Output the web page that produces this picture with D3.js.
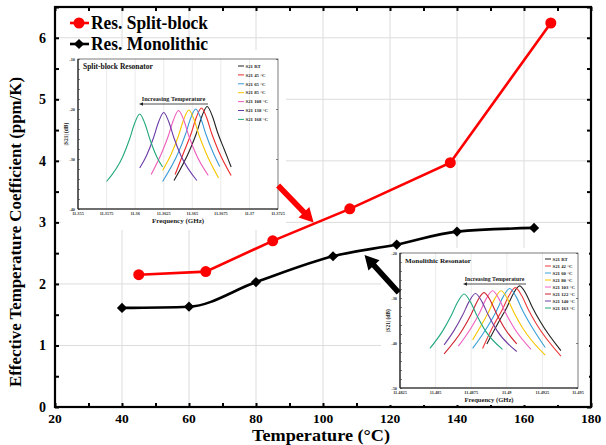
<!DOCTYPE html>
<html><head><meta charset="utf-8">
<script src="https://cdn.jsdelivr.net/npm/d3@7"></script>
<style>html,body{margin:0;padding:0;background:#fff}svg{display:block}text{font-family:'Liberation Serif','Times New Roman',serif;font-weight:bold}</style>
</head><body><svg id="c" width="606" height="445"></svg>
<script>
// ---------- main data ----------
const seriesNames = ["Res. Split-block", "Res. Monolithic"];
const tempSplit = [45, 65, 85, 108, 138, 168];
const tcfSplit = [2.15, 2.2, 2.7, 3.22, 3.97, 6.24];
const tempMono = [40, 60, 80, 103, 122, 140, 163];
const tcfMono = [1.61, 1.63, 2.03, 2.45, 2.64, 2.85, 2.91];
const xTickLabels = [20, 40, 60, 80, 100, 120, 140, 160, 180];
const yTickLabels = [0, 1, 2, 3, 4, 5, 6];
const xTitle = "Temperature (°C)";
const yTitle = "Effective Temperature Coefficient (ppm/K)";

// ---------- inset 1: split-block ----------
const splitNames = ["S21 RT", "S21 45 °C", "S21 65 °C", "S21 85 °C", "S21 108 °C", "S21 138 °C", "S21 168 °C"];
const splitColors = ["#222222", "#ee2a2a", "#3a9ad8", "#f7c600", "#ee5cbc", "#6a3aa6", "#22a878"];
const splitCurves = [
  [[11.3634,-34.3],[11.3648,-28.1],[11.3654,-24.6],[11.36585,-21.4],[11.3663,-19.5],[11.36675,-21.4],[11.3672,-24.6],[11.3678,-28.1],[11.3684,-31.6]],
  [[11.3635,-33.1],[11.3643,-28.4],[11.3649,-24.9],[11.36535,-21.7],[11.3658,-19.8],[11.36625,-21.7],[11.3667,-24.9],[11.3673,-28.4],[11.3684,-33.3]],
  [[11.3624,-34.5],[11.3638,-28.6],[11.3644,-25.1],[11.36485,-21.9],[11.3653,-20.0],[11.36575,-21.9],[11.3662,-25.1],[11.3668,-28.6],[11.3674,-31.5]],
  [[11.3624,-32.3],[11.3632,-28.8],[11.3638,-25.3],[11.36425,-22.1],[11.3647,-20.2],[11.36515,-22.1],[11.3656,-25.3],[11.3662,-28.8],[11.3673,-33.8]],
  [[11.3614,-33.1],[11.3623,-28.9],[11.3629,-25.4],[11.36335,-22.2],[11.3638,-20.3],[11.36425,-22.2],[11.3647,-25.4],[11.3653,-28.9],[11.3664,-33.3]],
  [[11.3604,-31.8],[11.3610,-29.3],[11.3616,-25.8],[11.36205,-22.6],[11.3625,-20.7],[11.36295,-22.6],[11.3634,-25.8],[11.3640,-29.3],[11.3654,-34.3]],
  [[11.3575,-34.5],[11.3589,-29.6],[11.3595,-26.1],[11.35995,-22.9],[11.3604,-21.0],[11.36085,-22.9],[11.3613,-26.1],[11.3619,-29.6],[11.3624,-31.6]]
];
const splitXTicks = [11.355, 11.3575, 11.36, 11.3625, 11.365, 11.3675, 11.37, 11.3725];
const splitYTicks = [-40, -30, -20, -10];

// ---------- inset 2: monolithic ----------
const monoNames = ["S21 RT", "S21 42 °C", "S21 60 °C", "S21 80 °C", "S21 103 °C", "S21 122 °C", "S21 140 °C", "S21 163 °C"];
const monoColors = ["#222222", "#ee3a3a", "#3aa0d8", "#f7c600", "#f060c0", "#d0202e", "#7040a0", "#20a880"];
const monoCurves = [
  [[11.4886,-40.2],[11.4894,-35.5],[11.4900,-32.1],[11.49045,-29.1],[11.4909,-27.3],[11.49135,-29.1],[11.4918,-32.1],[11.4924,-35.5],[11.4938,-41.7]],
  [[11.4883,-41.2],[11.4891,-35.9],[11.4897,-32.5],[11.49015,-29.5],[11.4906,-27.7],[11.49105,-29.5],[11.4915,-32.5],[11.4921,-35.9],[11.4938,-42.9]],
  [[11.4876,-41.2],[11.4887,-36.1],[11.4893,-32.7],[11.48975,-29.7],[11.4902,-27.9],[11.49065,-29.7],[11.4911,-32.7],[11.4917,-36.1],[11.4927,-41.0]],
  [[11.4876,-39.3],[11.4881,-36.6],[11.4887,-33.2],[11.48915,-30.2],[11.4896,-28.4],[11.49005,-30.2],[11.4905,-33.2],[11.4911,-36.6],[11.4927,-42.7]],
  [[11.4866,-40.7],[11.4875,-36.6],[11.4881,-33.2],[11.48855,-30.2],[11.4890,-28.4],[11.48945,-30.2],[11.4899,-33.2],[11.4905,-36.6],[11.4917,-41.4]],
  [[11.4856,-42.4],[11.4869,-37.0],[11.4875,-33.6],[11.48795,-30.6],[11.4884,-28.8],[11.48885,-30.6],[11.4893,-33.6],[11.4899,-37.0],[11.4907,-40.2]],
  [[11.4856,-40.4],[11.4863,-37.2],[11.4869,-33.8],[11.48735,-30.8],[11.4878,-29.0],[11.48825,-30.8],[11.4887,-33.8],[11.4893,-37.2],[11.4907,-41.9]],
  [[11.4846,-41.2],[11.4855,-37.3],[11.4861,-33.9],[11.48655,-30.9],[11.4870,-29.1],[11.48745,-30.9],[11.4879,-33.9],[11.4885,-37.3],[11.4897,-41.4]]
];
const monoXTicks = [11.4825, 11.485, 11.4875, 11.49, 11.4925, 11.495];
const monoYTicks = [-50, -40, -30, -20];

// ---------- layout ----------
const svg = d3.select("#c");
const L = 55, R = 591, T = 7, B = 407;
const x = d3.scaleLinear().domain([20, 180]).range([L, R]);
const y = d3.scaleLinear().domain([0, 6.5]).range([B, T]);

// grid
const grid = svg.append("g").attr("stroke", "#dcdcdc").attr("stroke-width", 1);
xTickLabels.slice(1, -1).forEach(v => grid.append("line").attr("x1", x(v)).attr("x2", x(v)).attr("y1", T).attr("y2", B));
yTickLabels.slice(1).forEach(v => grid.append("line").attr("x1", L).attr("x2", R).attr("y1", y(v)).attr("y2", y(v)));

// axes with inward ticks
function inwardAxes() {
  const gB = svg.append("g").attr("transform", `translate(0,${B})`)
    .call(d3.axisTop(x).tickValues(d3.range(20, 181, 10)).tickSize(4).tickFormat(""));
  const gT = svg.append("g").attr("transform", `translate(0,${T})`)
    .call(d3.axisBottom(x).tickValues(d3.range(20, 181, 10)).tickSize(4).tickFormat(""));
  const gL = svg.append("g").attr("transform", `translate(${L},0)`)
    .call(d3.axisRight(y).tickValues(d3.range(0, 6.51, 0.5)).tickSize(4).tickFormat(""));
  const gR = svg.append("g").attr("transform", `translate(${R},0)`)
    .call(d3.axisLeft(y).tickValues(d3.range(0, 6.51, 0.5)).tickSize(4).tickFormat(""));
  [gB, gT, gL, gR].forEach(g => { g.select(".domain").remove(); g.selectAll("line").attr("stroke", "#000").attr("stroke-width", 2); });
}
inwardAxes();
svg.append("rect").attr("x", L).attr("y", T).attr("width", R - L).attr("height", B - T)
  .attr("fill", "none").attr("stroke", "#000").attr("stroke-width", 2.2);

// tick labels
svg.append("g").selectAll("text").data(xTickLabels).join("text")
  .attr("x", d => x(d)).attr("y", B + 15.5).attr("text-anchor", "middle").attr("font-size", 13.5).text(d => d);
svg.append("g").selectAll("text").data(yTickLabels).join("text")
  .attr("x", L - 9).attr("y", d => y(d) + 5).attr("text-anchor", "end").attr("font-size", 14).text(d => d);
svg.append("text").attr("x", 321).attr("y", 440.5).attr("text-anchor", "middle").attr("font-size", 17)
  .attr("textLength", 138).attr("lengthAdjust", "spacingAndGlyphs").text(xTitle);
svg.append("text").attr("transform", `translate(21,232) rotate(-90)`).attr("text-anchor", "middle").attr("font-size", 16.5)
  .attr("textLength", 310).attr("lengthAdjust", "spacingAndGlyphs").text(yTitle);

// ---------- inset drawer ----------
function drawInset(c) {
  const g = svg.append("g");
  g.append("rect").attr("x", c.bg[0]).attr("y", c.bg[1]).attr("width", c.bg[2]).attr("height", c.bg[3]).attr("fill", "#fff");
  const ix = d3.scaleLinear().domain([c.xTicks[0], c.xTicks[c.xTicks.length - 1]]).range([c.x0, c.x1]);
  const iy = d3.scaleLinear().domain([c.yTicks[0], c.yTicks[c.yTicks.length - 1]]).range([c.y1, c.y0]);
  c.xTicks.slice(1, -1).forEach(v => g.append("line").attr("x1", ix(v)).attr("x2", ix(v)).attr("y1", c.y0).attr("y2", c.y1).attr("stroke", "#e6e6e6").attr("stroke-width", 0.8));
  g.append("rect").attr("x", c.x0).attr("y", c.y0).attr("width", c.x1 - c.x0).attr("height", c.y1 - c.y0)
    .attr("fill", "none").attr("stroke", "#444").attr("stroke-width", 0.7);
  g.append("line").attr("x1", c.x0).attr("x2", c.x0).attr("y1", c.y0).attr("y2", c.y1).attr("stroke", "#222").attr("stroke-width", 1.2);
  g.append("line").attr("x1", c.x0).attr("x2", c.x1).attr("y1", c.y1).attr("y2", c.y1).attr("stroke", "#222").attr("stroke-width", 1.2);
  const ga = g.append("g").attr("transform", `translate(${c.x0},0)`)
    .call(d3.axisRight(iy).tickValues(d3.range(c.yTicks[0], c.yTicks[c.yTicks.length - 1] + 0.1, 2)).tickSize(2).tickFormat(""));
  ga.select(".domain").remove(); ga.selectAll("line").attr("stroke", "#333").attr("stroke-width", 0.6);
  const gr = g.append("g").attr("transform", `translate(${c.x1},0)`)
    .call(d3.axisLeft(iy).tickValues(c.yTicks).tickSize(2).tickFormat(""));
  gr.select(".domain").remove(); gr.selectAll("line").attr("stroke", "#333").attr("stroke-width", 0.6);
  const line = d3.line().x(d => ix(d[0])).y(d => iy(d[1])).curve(d3.curveMonotoneX);
  c.curves.forEach((cv, i) => g.append("path").attr("d", line(cv)).attr("fill", "none").attr("stroke", c.colors[i]).attr("stroke-width", 1.1));
  g.selectAll(".xl").data(c.xTicks).join("text").attr("x", d => ix(d)).attr("y", c.y1 + 5.5)
    .attr("text-anchor", "middle").attr("font-size", 4.3).attr("fill", "#333").text(d => d);
  g.selectAll(".yl").data(c.yTicks).join("text").attr("x", c.x0 - 3).attr("y", d => iy(d) + 1.5)
    .attr("text-anchor", "end").attr("font-size", 4.3).attr("fill", "#333").text(d => d);
  g.append("text").attr("x", (c.x0 + c.x1) / 2).attr("y", c.y1 + 14).attr("text-anchor", "middle").attr("font-size", c.fs).attr("fill", "#222").text("Frequency (GHz)");
  g.append("text").attr("transform", `translate(${c.x0 - 10},${(c.y0 + c.y1) / 2}) rotate(-90)`).attr("text-anchor", "middle")
    .attr("font-size", 5.5).attr("fill", "#222").text("|S21| (dB)");
  g.append("text").attr("x", c.x0 + 5).attr("y", c.y0 + 10).attr("font-size", c.fs + 0.5).attr("fill", "#111").text(c.title);
  c.names.forEach((n, i) => {
    const ly = c.legY + i * c.legDy;
    g.append("line").attr("x1", c.legX).attr("x2", c.legX + 6).attr("y1", ly).attr("y2", ly).attr("stroke", c.colors[i]).attr("stroke-width", 1);
    g.append("text").attr("x", c.legX + 7.5).attr("y", ly + 1.7).attr("font-size", 4.8).attr("fill", "#222").text(n);
  });
  g.append("text").attr("x", (c.arr[0] + c.arr[1]) / 2).attr("y", c.arr[2] - 3).attr("text-anchor", "middle").attr("font-size", c.fs - 0.8).attr("fill", "#222").text("Increasing Temperature");
  g.append("line").attr("x1", c.arr[1]).attr("x2", c.arr[0] + 3).attr("y1", c.arr[2]).attr("y2", c.arr[2]).attr("stroke", "#222").attr("stroke-width", 0.8);
  g.append("path").attr("d", `M${c.arr[0]},${c.arr[2]} l4,-1.8 l0,3.6 Z`).attr("fill", "#222");
}

drawInset({ bg: [61, 50, 225, 180], x0: 78, x1: 278, y0: 59, y1: 209, xTicks: splitXTicks, yTicks: splitYTicks,
  curves: splitCurves, colors: splitColors, names: splitNames, title: "Split-block Resonator", fs: 7,
  legX: 238, legY: 66, legDy: 8.9, arr: [139, 208, 104] });
drawInset({ bg: [381, 248, 208, 157], x0: 400, x1: 578, y0: 253, y1: 388, xTicks: monoXTicks, yTicks: monoYTicks,
  curves: monoCurves, colors: monoColors, names: monoNames, title: "Monolithic Resonator", fs: 6.6,
  legX: 545, legY: 259, legDy: 7, arr: [463, 526, 284] });

// ---------- main series ----------
const redData = tempSplit.map((t, i) => [t, tcfSplit[i]]);
const blackData = tempMono.map((t, i) => [t, tcfMono[i]]);
svg.append("path").attr("d", d3.line().x(d => x(d[0])).y(d => y(d[1])).curve(d3.curveMonotoneX)(blackData))
  .attr("fill", "none").attr("stroke", "#000").attr("stroke-width", 2.6);
svg.append("path").attr("d", d3.line().x(d => x(d[0])).y(d => y(d[1]))(redData))
  .attr("fill", "none").attr("stroke", "#ff0000").attr("stroke-width", 2.6);
svg.append("g").selectAll("circle").data(redData).join("circle")
  .attr("cx", d => x(d[0])).attr("cy", d => y(d[1])).attr("r", 5.5).attr("fill", "#ff0000");
const diamond = d3.symbol().type(d3.symbolSquare).size(52);
svg.append("g").selectAll("path").data(blackData).join("path")
  .attr("d", diamond).attr("transform", d => `translate(${x(d[0])},${y(d[1])}) rotate(45)`).attr("fill", "#000");

// annotation arrows (data coordinates)
function arrow(from, to, color) {
  const x1 = x(from[0]), y1 = y(from[1]), x2 = x(to[0]), y2 = y(to[1]);
  const ang = Math.atan2(y2 - y1, x2 - x1), len = Math.hypot(x2 - x1, y2 - y1);
  const hl = 14, hw = 7.5, sw = 2.8;
  const g = svg.append("g").attr("transform", `translate(${x1},${y1}) rotate(${ang * 180 / Math.PI})`);
  g.append("path").attr("d", `M0,${-sw} L${len - hl},${-sw} L${len - hl},${-hw} L${len},0 L${len - hl},${hw} L${len - hl},${sw} L0,${sw} Z`).attr("fill", color);
}
arrow([86.6, 3.6], [97.2, 3.0], "#ff0000");
arrow([122.6, 1.86], [112.4, 2.47], "#000");

// legend
seriesNames.forEach((n, i) => {
  const ly = 23 + i * 21;
  svg.append("line").attr("x1", 70).attr("x2", 89).attr("y1", ly).attr("y2", ly).attr("stroke", i ? "#000" : "#ff0000").attr("stroke-width", 2.6);
  if (i === 0) svg.append("circle").attr("cx", 79).attr("cy", ly).attr("r", 5.5).attr("fill", "#ff0000");
  else svg.append("path").attr("d", diamond).attr("transform", `translate(79,${ly}) rotate(45)`).attr("fill", "#000");
  svg.append("text").attr("x", 91).attr("y", ly + 6).attr("font-size", 18.5)
    .attr("textLength", 117).attr("lengthAdjust", "spacingAndGlyphs").text(n);
});
</script></body></html>
